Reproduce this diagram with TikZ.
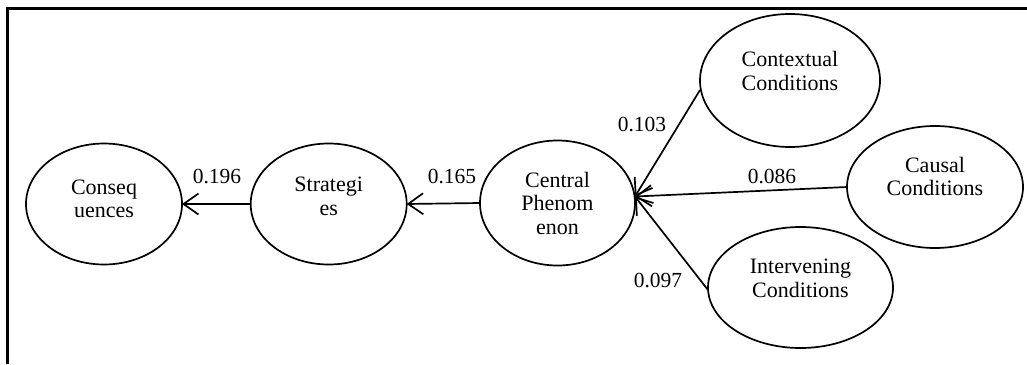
\documentclass[tikz,border=0pt]{standalone}
\usepackage{fontspec}
\setmainfont{Liberation Serif}
\usetikzlibrary{shapes.geometric,arrows.meta}
\tikzset{
  ell/.style={draw, ellipse, line width=1.7pt, inner sep=0pt, outer sep=0pt},
  txt/.style={align=center, inner sep=0pt, font=\fontsize{22}{23.5}\selectfont},
  num/.style={inner sep=0pt, font=\fontsize{21.5}{24}\selectfont},
  conn/.style={line width=1.7pt, -{Straight Barb[length=15pt,width=21pt,line width=1.7pt]}},
}
\begin{document}
\begin{tikzpicture}[x=1pt,y=-1pt]
\useasboundingbox (0,0) rectangle (1027,364);
\draw[line width=2.2pt] (7.5,364) -- (7.5,8.5) -- (1027,8.5);
% ellipses
\node[ell, minimum width=156pt, minimum height=121pt] (cons) at (104,204) {};
\node[ell, minimum width=156pt, minimum height=121pt] (strat) at (328.7,204) {};
\node[ell, minimum width=155pt, minimum height=125pt] (cent) at (557.5,203) {};
\node[ell, minimum width=180pt, minimum height=133pt] (ctx) at (790,80.5) {};
\node[ell, minimum width=176pt, minimum height=122pt] (caus) at (935,187) {};
\node[ell, minimum width=185pt, minimum height=121pt] (interv) at (800.5,287.5) {};
% texts
\node[txt] (consT) at (104,199) {Conseq\\uences};
\node[txt] (stratT) at (328.7,196.5) {Strategi\\es};
\node[txt] (centT) at (557.5,203) {Central\\Phenom\\enon};
\node[txt] (ctxT) at (790,71) {Contextual\\Conditions};
\node[txt] (causT) at (935,176.5) {Causal\\Conditions};
\node[txt] (intervT) at (800.5,278.5) {Intervening\\Conditions};
% connectors
\coordinate (hub) at (635,196.5);
\coordinate (ctxS) at (700,90);
\coordinate (intS) at (708,290);
\draw[conn] (strat.west) -- (cons.east);
\draw[conn] (cent.west) -- (strat.east);
\draw[conn] (ctxS) -- (hub);
\draw[conn] (caus.west) -- (hub);
\draw[conn] (intS) -- (hub);
% labels
\node[num] (l1) at (217,177) {0.196};
\node[num] (l2) at (452,177) {0.165};
\node[num] (l3) at (642,125) {0.103};
\node[num] (l4) at (772,177) {0.086};
\node[num] (l5) at (658,280) {0.097};
\end{tikzpicture}
\end{document}
